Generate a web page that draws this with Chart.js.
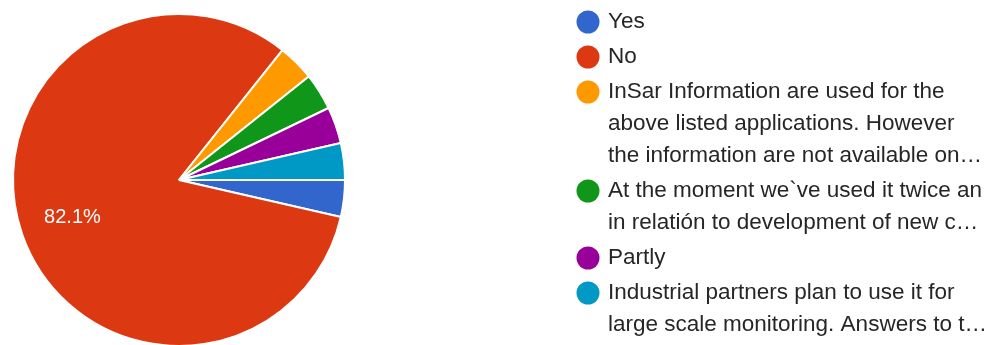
<!DOCTYPE html>
<html>
<head>
<meta charset="utf-8">
<script src="https://cdn.jsdelivr.net/npm/chart.js@4"></script>
<style>
  html, body { margin: 0; padding: 0; background: #fff; overflow: hidden; }
  #wrap { width: 995px; height: 360px; position: relative; }
</style>
</head>
<body>
<div id="wrap"><canvas id="pie"></canvas></div>
<script>
// answers, in the order google forms lists them
const categories = [
    "Yes",
    "No",
    "InSar Information are used for the above listed applications. However the information are not available on...",
    "At the moment we`ve used it twice an in relatión to development of new c...",
    "Partly",
    "Industrial partners plan to use it for large scale monitoring. Answers to t..."
];
// how the legend wraps each answer
const legendLines = [
    ["Yes"],
    ["No"],
    ["InSar Information are used for the", "above listed applications. However", "the information are not available on\u2026"],
    ["At the moment we`ve used it twice an", "in relatión to development of new c\u2026"],
    ["Partly"],
    ["Industrial partners plan to use it for", "large scale monitoring. Answers to t\u2026"]
];
const responses = [1, 23, 1, 1, 1, 1];
const colors = ["#3366cc", "#dc3912", "#ff9900", "#109618", "#990099", "#0099c6"];

// percentage label inside the big slice
const sliceLabels = {
    id: "sliceLabels",
    afterDatasetsDraw(chart) {
        const ctx = chart.ctx;
        const meta = chart.getDatasetMeta(0);
        const total = responses.reduce((a, b) => a + b, 0);
        ctx.save();
        ctx.font = "20px 'Liberation Sans', Arial, sans-serif";
        ctx.fillStyle = "#ffffff";
        ctx.textAlign = "center";
        ctx.textBaseline = "middle";
        meta.data.forEach((arc, i) => {
            const pct = responses[i] / total * 100;
            if (pct < 10) return;
            const mid = (arc.startAngle + arc.endAngle) / 2;
            const r = arc.outerRadius * 0.68;
            ctx.fillText(pct.toFixed(1) + "%", arc.x + Math.cos(mid) * r, arc.y + Math.sin(mid) * r);
        });
        ctx.restore();
    }
};

// legend on the right, wrapped like the forms summary
const sideLegend = {
    id: "sideLegend",
    afterDraw(chart) {
        const ctx = chart.ctx;
        ctx.save();
        ctx.font = "22.5px 'Liberation Sans', Arial, sans-serif";
        ctx.textBaseline = "middle";
        ctx.textAlign = "left";
        let y = 22;
        legendLines.forEach((lines, i) => {
            ctx.fillStyle = colors[i];
            ctx.beginPath();
            ctx.arc(588, y, 11.5, 0, Math.PI * 2);
            ctx.fill();
            ctx.fillStyle = "#262626";
            lines.forEach((t, j) => {
                ctx.fillText(t, 608, y + j * 32);
            });
            y += lines.length * 32 + 3;
        });
        ctx.restore();
    }
};

new Chart(document.getElementById("pie"), {
    type: "pie",
    data: {
        labels: categories,
        datasets: [{
            data: responses,
            backgroundColor: colors,
            borderColor: "#ffffff",
            borderWidth: 2
        }]
    },
    options: {
        responsive: true,
        maintainAspectRatio: false,
        animation: false,
        rotation: 90,
        layout: { padding: { left: 12, top: 13, bottom: 13, right: 649 } },
        plugins: {
            legend: { display: false },
            tooltip: { enabled: false }
        }
    },
    plugins: [sliceLabels, sideLegend]
});
</script>
</body>
</html>
